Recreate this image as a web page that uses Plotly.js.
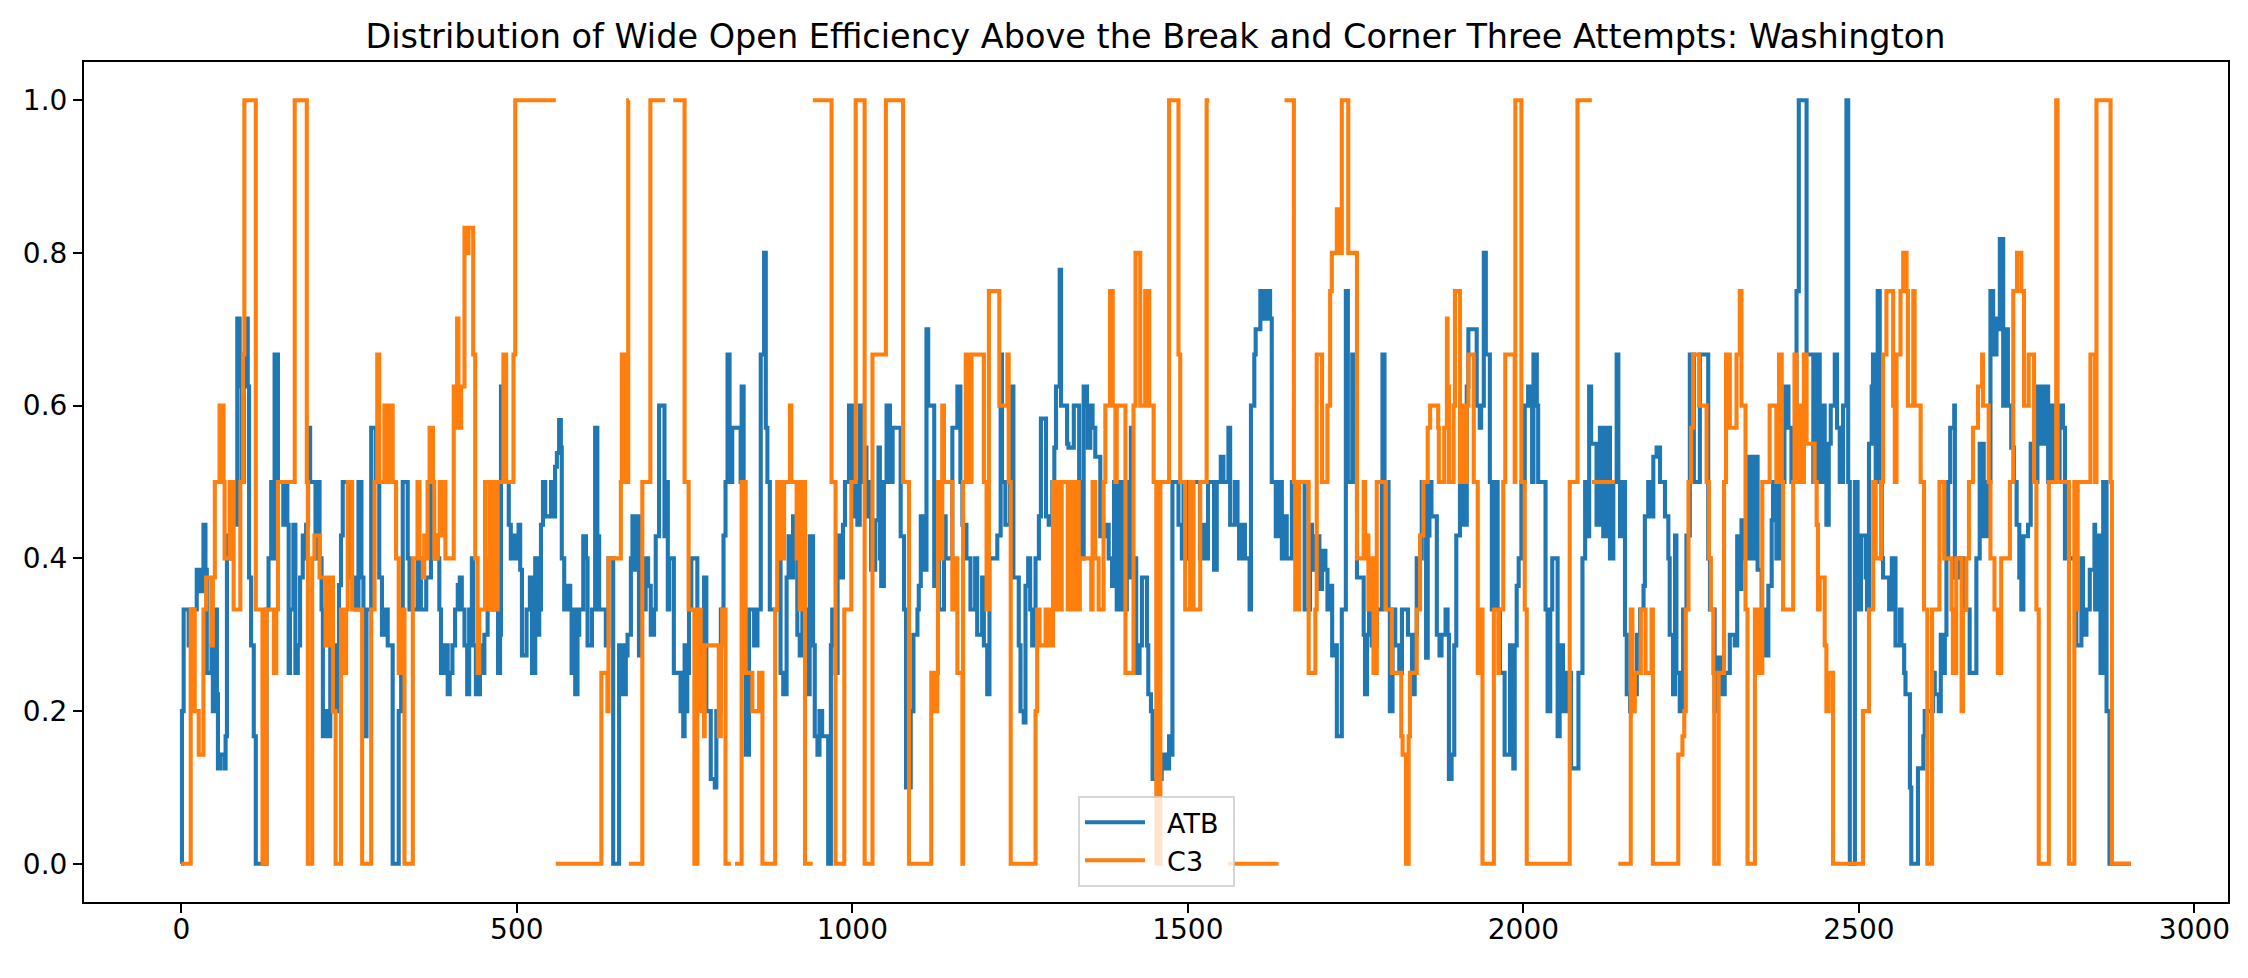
<!DOCTYPE html>
<html><head><meta charset="utf-8">
<script src="https://cdn.plot.ly/plotly-3.0.1.min.js"></script>
<style>html,body{margin:0;padding:0;background:#fff}</style></head>
<body><div id="chart" style="width:2248px;height:978px"></div>
<script>
const chartTitle = "Distribution of Wide Open Efficiency Above the Break and Corner Three Attempts: Washington";
const xTicks = [0,500,1000,1500,2000,2500,3000];
const yTicks = [0,0.2,0.4,0.6,0.8,1];
const atbSteps = [[0,0],[1,.2],[3.5,.333],[10,.333],[11,.286],[14,.333],[21,.333],[23,.385],[27,.357],[33,.444],[36,.385],[38,.25],[45,.286],[47,.2],[50.6,.333],[53,.222],[54.6,.125],[58,.143],[64.5,.125],[66,.167],[68,.4],[69.5,.43],[73,.4],[77,.5],[81,.444],[83.4,.714],[87,.625],[90,.5],[93,.667],[97,.714],[99,.625],[101,.375],[104,.286],[108,.167],[111,0],[127,.333],[130,.4],[134,.5],[137.5,.4],[139,.667],[144,.5],[150,.5],[152,.444],[156,.5],[158,.444],[160,.25],[162,.333],[167,.444],[170,.25],[173.6,.286],[177,.375],[181,.43],[183.5,.4],[186,.444],[189,.571],[192,.5],[197,.5],[200,.4],[203.4,.5],[206,.4],[209,.333],[211,.167],[217,.2],[221,.167],[222,.286],[226,.2],[230,.286],[232,.2],[235,.365],[238,.43],[240.6,.5],[250.6,.43],[253,.375],[259.6,.333],[264,.5],[268.4,.375],[271.4,.333],[274,.167],[276,.333],[283,.571],[288,.571],[290,.5],[295,.375],[299,.3],[305,.333],[307.6,.286],[315,0],[324,.2],[327.6,.333],[330,.5],[337.4,.4],[340,.333],[352,.4],[357,.333],[365,.375],[372,.5],[375,.4],[378.5,.43],[382,.4],[384.5,.333],[387,.25],[392,.286],[397,.222],[400,.25],[404,.286],[408,.333],[412,.365],[415,.375],[418,.333],[422,.286],[426,.222],[429,.333],[433,.4],[435,.286],[439,.222],[445,.286],[448,.25],[451.6,.3],[456.5,.333],[459,.4],[461.5,.333],[472,.25],[475,.3],[476.4,.625],[479,.5],[488,.444],[491,.4],[496,.43],[500,.4],[502.6,.444],[505,.385],[507.6,.273],[514.5,.333],[519.5,.375],[522.6,.25],[527.4,.4],[530,.3],[533.4,.333],[536,.444],[539,.5],[542.4,.455],[551,.5],[555.7,.455],[557,.52],[559.7,.538],[563,.581],[565.6,.545],[567,.4],[570.6,.333],[574.6,.364],[579.6,.333],[581.6,.25],[584,.333],[587,.222],[590.4,.3],[593,.333],[599,.429],[603,.4],[605.4,.286],[612,.333],[616.7,.571],[620,.429],[622.7,.333],[632.6,.286],[636.6,.4],[643.6,0],[652.4,.286],[656,.222],[657.4,.286],[660,.222],[662.4,.273],[665,.3],[670,.4],[672.3,.455],[676,.385],[678.7,.455],[682,.273],[685,.333],[692,.4],[695.6,.364],[699.6,.3],[704.5,.333],[707,.429],[712,.6],[720,.429],[723.4,.5],[725,.333],[727,.4],[734,.25],[744,.2],[748,.167],[750,.286],[751.6,.2],[754,.25],[756.6,.333],[760,.4],[769,.25],[779,.375],[782.4,.2],[789,.111],[795,.1],[797.3,.2],[804,.333],[808,.43],[811,.5],[814,.667],[817,.5],[821,.571],[831,.571],[833.5,.5],[835,.625],[838,.5],[839,.25],[841,.143],[846,.333],[853.6,.286],[858.6,.333],[863.5,.667],[868.5,.8],[871,.571],[873.4,.5],[877,.333],[891,.4],[893,.25],[897,.222],[902,.375],[905,.429],[910.6,.375],[911.6,.455],[916,.45],[918,.3],[921.6,.273],[925.5,.333],[933,.222],[936.4,.429],[941.5,.286],[944,.167],[948,.143],[951,.2],[955,.167],[964,0],[968,.286],[970,.333],[975,.25],[978,.43],[983,.375],[986,.444],[989,.5],[995,.6],[1000,.455],[1002,.5],[1007.4,.444],[1011,.6],[1015,.5],[1017.3,.545],[1021,.455],[1025,.5],[1028,.385],[1034,.45],[1039,.545],[1041,.4],[1043,.364],[1047,.5],[1051,.6],[1056,.5],[1060,.571],[1070,.571],[1072,.429],[1077,.333],[1080,.1],[1087,.2],[1091,.3],[1097,.333],[1099,.364],[1102,.455],[1107,.385],[1110.5,.7],[1113,.6],[1122,.364],[1124,.5],[1129,.333],[1136.5,.455],[1139,.4],[1149,.571],[1156.5,.625],[1161,.5],[1164,.444],[1170,.4],[1176,.333],[1183,.4],[1186,.3],[1193.4,.375],[1196,.286],[1201,.222],[1204.3,.4],[1216,.43],[1221,.667],[1223,.5],[1228,.444],[1235,.625],[1240,.375],[1248,.286],[1250.6,.2],[1255.4,.185],[1258,.364],[1262,.4],[1265,.333],[1268,.286],[1273,.4],[1278,.455],[1281,.583],[1288.6,.455],[1292.6,.444],[1298,.5],[1301,.545],[1303.5,.625],[1309,.778],[1311,.6],[1320,.55],[1322,.545],[1330,.6],[1338,.5],[1341,.4],[1344.7,.625],[1349.6,.6],[1351,.545],[1354.6,.6],[1358,.571],[1362,.533],[1369.5,.429],[1377,.444],[1382,.4],[1387,.364],[1390,.5],[1394,.333],[1399,.5],[1402,.333],[1409,.5],[1412,.375],[1415,.571],[1418,.4],[1423,.25],[1428,.286],[1431.5,.375],[1439,.286],[1441,.222],[1445,.2],[1447.4,.111],[1461,.143],[1466,.125],[1472,.167],[1476,.143],[1477,.5],[1486,.444],[1491,.4],[1493.5,.5],[1501,.4],[1506,.5],[1518,.4],[1522,.444],[1526,.4],[1530,.5],[1539,.385],[1543,.5],[1549,.533],[1553,.5],[1560.4,.571],[1563,.444],[1570,.5],[1574,.444],[1576.3,.4],[1580,.444],[1585,.4],[1592,.333],[1594,.6],[1599,.667],[1601,.7],[1608,.75],[1612.5,.714],[1617.5,.75],[1622.5,.714],[1625,.5],[1631,.429],[1634,.5],[1640,.4],[1645,.455],[1647.3,.4],[1655,.5],[1667.4,.5],[1674,.333],[1679,.333],[1682,.444],[1685,.385],[1690,.429],[1696,.36],[1700,.41],[1705,.385],[1708,.333],[1712,.364],[1715,.273],[1719.5,.286],[1722,.167],[1729.4,.333],[1735.4,.75],[1738.4,.5],[1745,.667],[1748,.5],[1752,.375],[1762,.3],[1764,.222],[1767,.3],[1770,.333],[1774,.286],[1781.5,.333],[1789,.5],[1790,.667],[1793,.5],[1799,.333],[1801,.2],[1805,.333],[1809,.286],[1815,.25],[1819,.333],[1828,.3],[1834,.222],[1838,.3],[1841,.4],[1848.5,.5],[1855,.27],[1857.4,.43],[1860,.5],[1863,.455],[1871,.3],[1875,.273],[1878,.3],[1884,.333],[1887,.3],[1889,.111],[1893,.143],[1897,.286],[1900,.43],[1905.5,.5],[1911.5,.444],[1915.6,.625],[1918,.7],[1930.4,.6],[1935,.571],[1937,.6],[1941,.8],[1944,.667],[1950,.5],[1953,.333],[1957,.5],[1961.6,.333],[1965,.25],[1972,.143],[1980,.286],[1985,.125],[1987,.286],[1990,.364],[1993,.4],[1997,.5],[2002,.6],[2007,.625],[2013,.5],[2015,.667],[2020,.6],[2022,.5],[2033,.333],[2036,.2],[2040,.333],[2043,.4],[2051,.167],[2054,.286],[2059,.2],[2064,.25],[2071,.125],[2082,.25],[2088,.4],[2092,.5],[2096,.429],[2098,.625],[2101,.55],[2109,.444],[2114,.571],[2119,.429],[2123,.571],[2129,.4],[2134,.5],[2139,.667],[2141.5,.5],[2144,.429],[2149,.5],[2151.4,.3],[2154,.222],[2159,.2],[2164,.222],[2169,.3],[2174,.333],[2179,.364],[2181,.455],[2186,.5],[2188.6,.455],[2193.6,.533],[2198.5,.545],[2203.6,.5],[2211,.455],[2216,.4],[2218,.3],[2223,.222],[2226,.43],[2228,.25],[2233,.2],[2238,.333],[2243,.43],[2248,.667],[2254,.5],[2263,.667],[2275.4,.4],[2278,.333],[2285,.2],[2290,.27],[2295,.222],[2300,.25],[2307.6,.3],[2315,.286],[2318.6,.429],[2322.5,.36],[2325,.45],[2330,.4],[2336,.533],[2340,.4],[2345,.533],[2349,.385],[2355,.333],[2361,.273],[2365,.364],[2370,.45],[2372,.5],[2377,.4],[2382,.5],[2389,.625],[2395,.571],[2399.4,.5],[2407,.75],[2410.4,1],[2420.4,1],[2422,.667],[2432,.5],[2437,.667],[2441.6,.5],[2445,.6],[2449,.5],[2451.5,.444],[2455,.55],[2458,.6],[2464,.667],[2467.4,.571],[2471.4,.5],[2476.4,.6],[2481.4,1],[2484,.5],[2486.4,0],[2494,.5],[2498,.333],[2503,.43],[2510,.375],[2512,.333],[2515,.55],[2519,.625],[2521,.667],[2525,.5],[2528,.75],[2531,.5],[2534,.4],[2536,.375],[2545,.333],[2549,.4],[2554.5,.286],[2561,.333],[2563.5,.286],[2567.4,.25],[2569.4,.222],[2576,.1],[2578,0],[2588,.125],[2596,.167],[2598,.2],[2610.6,.25],[2613,.222],[2619,.2],[2622,.3],[2624,.25],[2628,.3],[2630.4,.4],[2633,.5],[2636,.571],[2642,.6],[2643,.375],[2648,.4],[2655,.333],[2665,.25],[2675,.4],[2680,.55],[2686,.429],[2692,.5],[2696,.75],[2700,.667],[2705,.714],[2707,.7],[2710,.818],[2715,.6],[2718.7,.7],[2722,.6],[2727,.545],[2731,.5],[2735,.444],[2739,.375],[2742,.333],[2745,.429],[2752,.444],[2756,.55],[2762,.5],[2766,.625],[2771,.55],[2777,.625],[2782,.5],[2786,.6],[2792,.5],[2799,.6],[2804,.571],[2807,.4],[2817,.4],[2824,.286],[2831.5,.4],[2834,.3],[2839,.333],[2844,.385],[2851,.444],[2852,.333],[2856,.43],[2860,.25],[2864,.5],[2869,.2],[2873.4,0],[2905,0]];
const c3Steps = [[0,0],[14,.333],[20,.2],[26,.143],[33,.333],[37,.375],[44.7,.286],[47,.375],[50,.5],[57,.6],[63,.5],[64.5,.4],[72,.5],[78,.333],[88,.5],[92,.667],[94,1],[111,.333],[121,0],[127,.333],[138,.25],[141.5,.333],[144,.5],[169,1],[187,.5],[188.6,0],[195,.4],[198.4,.43],[206,.375],[215,.286],[220,.375],[226,.2],[230,0],[238,.333],[243,.25],[245.6,.333],[248,.5],[254.6,.333],[269.5,0],[283,.333],[288,.5],[292,.667],[295,.5],[302.6,.6],[305,.5],[310,.6],[315,.5],[320,.4],[324,.25],[327.6,.333],[332.6,0],[345,.4],[352,.5],[355,.4],[360,.375],[362,.43],[365,.4],[367,.5],[370,.571],[375,.5],[377,.4],[382,.43],[385,.5],[388,.43],[393,.5],[393.6,.4],[406,.625],[409,.571],[411,.714],[413,.625],[414.4,.571],[417,.625],[422,.833],[426,.8],[428,.833],[435,.667],[438,.4],[441.6,.25],[444,.333],[452.6,.5],[459,.333],[464,.5],[468,.333],[471.4,.5],[480,.667],[484,.5],[495,.667],[497.7,1],[558,1],[558,null],[558,0],[626,.25],[635,.2],[636.6,.4],[655,.5],[656.5,.667],[660,.5],[666,1],[667,1],[667,null],[667,0],[687,.5],[699,1],[721,1],[721,null],[733,1],[750,.5],[756,.333],[764.6,0],[769,.333],[774,.2],[779,.167],[780,.286],[801,.167],[804,.286],[806,.333],[811,0],[819,0],[819,null],[825,0],[835,.5],[841,.25],[851,.2],[861,.25],[866,0],[885,.333],[888,.5],[890,.4],[893,.5],[897,.4],[898.3,.5],[907,.6],[909,.5],[917,.4],[920,.5],[921.6,.333],[923,.5],[925.5,.333],[928,.5],[929.5,0],[941,0],[941,null],[941,1],[969,.5],[975,0],[988,.333],[998.5,.5],[1005,1],[1018.3,0],[1030,.667],[1050,1],[1075.6,.5],[1084.4,0],[1117.6,.25],[1122.6,.2],[1126.6,.25],[1127.6,.5],[1131,.4],[1134,.6],[1136.5,.5],[1149,.333],[1151,.4],[1156.5,.25],[1164,0],[1165,.5],[1169,.667],[1173,.5],[1177.6,.667],[1196,.5],[1200,.333],[1203.5,.75],[1219,.6],[1231,.667],[1233,.5],[1236,0],[1273,.2],[1275.4,.333],[1279,.286],[1288,.333],[1294,.286],[1299,.5],[1302.5,.333],[1305,.5],[1310,.333],[1312,.5],[1321,.333],[1325,.5],[1330,.333],[1335,.5],[1337.4,.333],[1339,.4],[1356,.333],[1358,.5],[1362,.4],[1367,.333],[1374.4,.5],[1377,.6],[1384,.75],[1388,.6],[1392,.5],[1394,.6],[1407,.25],[1419,.6],[1422,.8],[1429,.6],[1436.4,.75],[1442.4,.6],[1449,.5],[1453,0],[1459,.5],[1472,1],[1486,.667],[1488.6,.5],[1496,.333],[1503.4,.5],[1508.4,.333],[1518.4,.5],[1528,1],[1532,1],[1532,null],[1560,0],[1635,0],[1635,null],[1644,1],[1658,.5],[1660,.333],[1666,.5],[1680,.25],[1690,.333],[1692,.667],[1700,.5],[1708,.6],[1712,.75],[1714.5,.8],[1722,.857],[1728,.8],[1729.4,1],[1739,.8],[1752,.4],[1762,.5],[1764,.4],[1767,.43],[1769,.333],[1771.6,.4],[1776.6,.25],[1781.5,.5],[1795,.333],[1804,.25],[1818,.167],[1820,.143],[1825,0],[1829,.167],[1831,.25],[1841,.333],[1846,.43],[1851,.5],[1857.4,.571],[1861,.6],[1873,.571],[1874,.5],[1882,.571],[1886,.714],[1887,.625],[1889,.5],[1896,.6],[1898,.75],[1905.5,.5],[1908,.6],[1913,.5],[1915.5,.6],[1918,.667],[1926,.5],[1932,.25],[1935.4,.333],[1939,0],[1956,.333],[1962.6,.25],[1963.6,.333],[1970,.5],[1973,.667],[1987,.5],[1988,1],[1997,.5],[2002,.333],[2005,0],[2069,.5],[2080.6,1],[2102,1],[2102,null],[2102,.5],[2136.5,.5],[2136.5,null],[2141.5,0],[2160,.333],[2162.4,.2],[2166,.25],[2175,.333],[2182,.25],[2191,.333],[2193,0],[2230.8,.143],[2237,.167],[2239.7,.2],[2242,.333],[2246,.5],[2250,.571],[2253,.667],[2262,.6],[2273,.5],[2276.4,.4],[2279.4,.333],[2283,.25],[2284.4,0],[2291,.25],[2299,.5],[2302,.667],[2307.6,.571],[2317.6,.667],[2322.5,.75],[2325,.6],[2331,.333],[2334,0],[2345,.333],[2351,.25],[2356,.5],[2367,.6],[2377,.5],[2381,.667],[2385,.5],[2387,.333],[2402,.5],[2404,.667],[2407,.5],[2409.4,.6],[2414,.5],[2418,.667],[2422,.55],[2434,.5],[2437,.444],[2439,.333],[2441.6,.375],[2449,.286],[2451.5,.2],[2455,.25],[2461.4,0],[2506,.2],[2515,.333],[2521.3,.5],[2525,.4],[2533,.5],[2536,.667],[2541,.75],[2551,.6],[2553.5,.5],[2556,.667],[2562,.75],[2566,.8],[2571,.75],[2573,.6],[2581,.75],[2583,.6],[2592,.5],[2597,.333],[2602,0],[2609,.333],[2620,.5],[2627,.4],[2638,.333],[2640,.25],[2645,.4],[2653,.2],[2655,.333],[2660,.4],[2664,.5],[2670,.571],[2677.5,.625],[2683.6,.667],[2685,.6],[2693.4,.5],[2696,.4],[2702,.333],[2707,.25],[2712,.4],[2725,.5],[2730,.75],[2735.6,.8],[2742,.75],[2746,.6],[2753,.667],[2761,.5],[2764.5,.333],[2768,0],[2783,.5],[2794,1],[2796,.5],[2813,0],[2821,.5],[2824,.333],[2826,.5],[2845,.667],[2852,.5],[2854,1],[2875,.5],[2877,0],[2905,0]];
const blue = "#1f77b4", orange = "#ff7f0e";
function trace(name, steps, color){
  return {type:"scatter", mode:"lines", name:name,
    x:steps.map(p=>p[0]), y:steps.map(p=>p[1]), connectgaps:false,
    line:{color:color, width:4.1, shape:"hv"}};
}
const font = {family:"DejaVu Sans", color:"#000", size:28};
const axis = {showgrid:false, zeroline:false, showline:true, mirror:true, linecolor:"#000", linewidth:2,
  ticks:"outside", ticklen:9, tickwidth:2, tickcolor:"#000", tickfont:{family:"DejaVu Sans", size:28, color:"#000"}};
Plotly.newPlot("chart",[trace("\u00A0\u00A0ATB\u00A0",atbSteps,blue),trace("\u00A0\u00A0C3\u00A0",c3Steps,orange)],{
  width:2248, height:978, font:font, paper_bgcolor:"#fff", plot_bgcolor:"#fff",
  margin:{l:84,r:20,t:62,b:76},
  title:{text:chartTitle, font:{family:"DejaVu Sans", size:33.5, color:"#000"}, x:0.514, xanchor:"center", y:0.963, yanchor:"middle"},
  xaxis:Object.assign({range:[-145,3050], tickvals:xTicks, ticktext:xTicks.map(String), ticklabelstandoff:-8},axis),
  yaxis:Object.assign({range:[-0.05,1.05], tickvals:yTicks, ticktext:yTicks.map(v=>v.toFixed(1))},axis),
  legend:{x:0.4636, xanchor:"left", y:0.126, yanchor:"top", bgcolor:"rgba(255,255,255,0.8)", bordercolor:"rgba(204,204,204,0.8)", borderwidth:2, font:{family:"DejaVu Sans", size:27, color:"#000"}, itemwidth:60, tracegroupgap:0}
},{displayModeBar:false, responsive:false});
</script></body></html>
